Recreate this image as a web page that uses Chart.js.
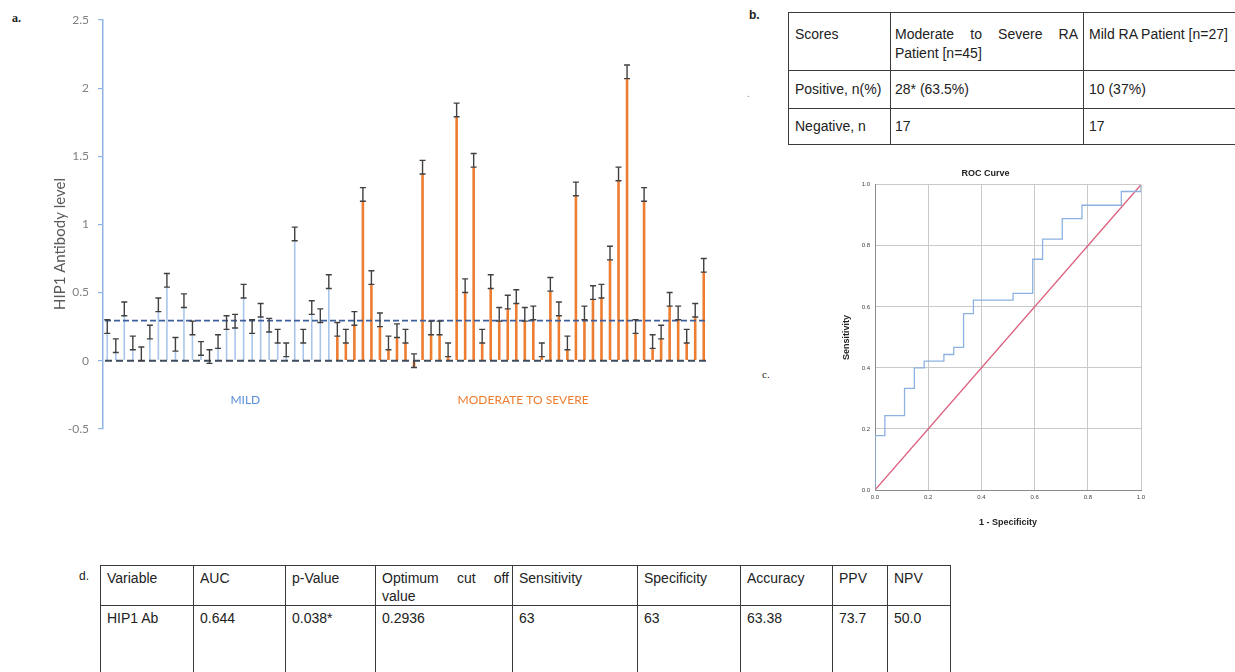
<!DOCTYPE html>
<html>
<head>
<meta charset="utf-8">
<script src="https://cdn.jsdelivr.net/npm/chart.js@4.4.0/dist/chart.umd.min.js"></script>
<style>
  body { margin: 0; background: #fff; width: 1235px; height: 672px; overflow: hidden; position: relative; font-family: "Liberation Sans", Arial, sans-serif; }
  .abs { position: absolute; }
  table { border-collapse: collapse; font-size: 14px; color: #222; table-layout: fixed; }
  td { border: 1.5px solid #3a3a3a; padding: 0 6px; line-height: 19px; vertical-align: middle; overflow: hidden; white-space: nowrap; }
  .just { text-align: justify; text-align-last: justify; }
  .lbl { position: absolute; color: #222; }
</style>
</head>
<body>

<div class="lbl" style="left:12px;top:11px;font:bold 12px 'Liberation Serif',serif;">a.</div>
<div class="lbl" style="left:749px;top:8px;font:bold 12px 'Liberation Sans',sans-serif;">b.</div>
<div class="lbl" style="left:762px;top:368px;font:11px 'Liberation Serif',serif;">c.</div>
<div class="lbl" style="left:79px;top:569px;font:12px 'Liberation Sans',sans-serif;">d.</div>
<div class="lbl" style="left:747px;top:88px;font:10px 'Liberation Sans',sans-serif;color:#888;">.</div>

<canvas id="barChart" class="abs" style="left:0;top:0;" width="720" height="445"></canvas>
<canvas id="rocChart" class="abs" style="left:830px;top:160px;" width="320" height="380"></canvas>

<table class="abs" style="left:788px;top:12px;width:460px;">
  <colgroup><col style="width:102px"><col style="width:193px"><col style="width:165px"></colgroup>
  <tr style="height:58px">
    <td style="vertical-align:top;padding-top:12px;">Scores</td>
    <td style="vertical-align:top;padding-top:12px;padding-left:4px;padding-right:5px;"><div class="just">Moderate to Severe RA</div><div>Patient [n=45]</div></td>
    <td style="vertical-align:top;padding-top:12px;padding-left:5px;">Mild RA Patient [n=27]</td>
  </tr>
  <tr style="height:38px">
    <td>Positive, n(%)</td><td style="padding-left:4px;">28* (63.5%)</td><td style="padding-left:5px;">10 (37%)</td>
  </tr>
  <tr style="height:36px">
    <td>Negative, n</td><td style="padding-left:4px;">17</td><td style="padding-left:5px;">17</td>
  </tr>
</table>

<table class="abs" style="left:100px;top:565px;width:850px;">
  <colgroup>
    <col style="width:93px"><col style="width:92px"><col style="width:90px"><col style="width:137px"><col style="width:125px">
    <col style="width:103px"><col style="width:92px"><col style="width:55px"><col style="width:63px">
  </colgroup>
  <tr style="height:39px">
    <td style="vertical-align:top;padding-top:3px;line-height:18px;">Variable</td>
    <td style="vertical-align:top;padding-top:3px;line-height:18px;">AUC</td>
    <td style="vertical-align:top;padding-top:3px;line-height:18px;">p-Value</td>
    <td style="vertical-align:top;padding-top:3px;line-height:18px;padding-right:3px;"><div class="just">Optimum cut off</div><div>value</div></td>
    <td style="vertical-align:top;padding-top:3px;line-height:18px;">Sensitivity</td>
    <td style="vertical-align:top;padding-top:3px;line-height:18px;">Specificity</td>
    <td style="vertical-align:top;padding-top:3px;line-height:18px;">Accuracy</td>
    <td style="vertical-align:top;padding-top:3px;line-height:18px;">PPV</td>
    <td style="vertical-align:top;padding-top:3px;line-height:18px;">NPV</td>
  </tr>
  <tr style="height:71px">
    <td style="vertical-align:top;padding-top:3px;">HIP1 Ab</td>
    <td style="vertical-align:top;padding-top:3px;">0.644</td>
    <td style="vertical-align:top;padding-top:3px;">0.038*</td>
    <td style="vertical-align:top;padding-top:3px;">0.2936</td>
    <td style="vertical-align:top;padding-top:3px;">63</td>
    <td style="vertical-align:top;padding-top:3px;">63</td>
    <td style="vertical-align:top;padding-top:3px;">63.38</td>
    <td style="vertical-align:top;padding-top:3px;">73.7</td>
    <td style="vertical-align:top;padding-top:3px;">50.0</td>
  </tr>
</table>

<script>
// HIP1 antibody level per patient (bar top)
const mildValues = [0.20, 0.06, 0.33, 0.08, 0.00, 0.16, 0.36, 0.54, 0.07, 0.39, 0.19, 0.04, -0.02, 0.09,
  0.23, 0.24, 0.46, 0.20, 0.32, 0.21, 0.13, 0.03, 0.88, 0.13, 0.34, 0.28, 0.53];
const severeValues = [0.18, 0.13, 0.26, 1.17, 0.56, 0.25, 0.08, 0.17, 0.13,
  -0.05, 1.37, 0.19, 0.19, 0.03, 1.79, 0.50, 1.42, 0.13, 0.53, 0.29, 0.38, 0.42, 0.29, 0.30, 0.03, 0.51, 0.33,
  0.08, 1.21, 0.30, 0.45, 0.46, 0.74, 1.32, 2.07, 0.20, 1.17, 0.09, 0.16, 0.40, 0.30, 0.13, 0.32, 0.65];
const ERR = 0.1;          // upper error bar length
const CUTOFF = 0.2936;    // optimum cut off
const yTicks = [-0.5, 0, 0.5, 1, 1.5, 2, 2.5];

// ROC curve (1 - specificity, sensitivity)
const rocFpr = [0, 0, 0.037, 0.111, 0.148, 0.185, 0.259, 0.296, 0.333, 0.370, 0.519, 0.593, 0.630, 0.704, 0.778, 0.926, 1.0];
const rocTpr = [0, 0.178, 0.244, 0.333, 0.400, 0.422, 0.444, 0.467, 0.578, 0.622, 0.644, 0.756, 0.822, 0.889, 0.933, 0.978, 1.0];
const refLine = [0, 1];
const rocTicks = [0, 0.2, 0.4, 0.6, 0.8, 1.0];

const MILD_COLOR = "#a9c6ea";
const SEVERE_COLOR = "#ed7d31";

/* =========================
   a. bar chart
========================= */
const labels = [...mildValues, ...severeValues].map((_, i) => String(i + 1));
const mildData = [...mildValues, ...severeValues.map(() => null)];
const severeData = [...mildValues.map(() => null), ...severeValues];

const barExtras = {
  id: "barExtras",
  afterDatasetsDraw(chart) {
    const { ctx, chartArea: a, scales: { x, y } } = chart;
    ctx.save();

    const dashed = (val, color, w, dash) => {
      const py = y.getPixelForValue(val);
      ctx.strokeStyle = color;
      ctx.lineWidth = w;
      ctx.setLineDash(dash);
      ctx.beginPath();
      ctx.moveTo(a.left + 2, py);
      ctx.lineTo(a.right, py);
      ctx.stroke();
    };
    dashed(0, "#3e4b5e", 2, [7, 4]);
    dashed(CUTOFF, "#3f5e9c", 1.6, [6, 3]);
    ctx.setLineDash([]);

    // error bars
    ctx.strokeStyle = "#404040";
    ctx.lineWidth = 1.4;
    chart.data.datasets.forEach((ds, di) => {
      const meta = chart.getDatasetMeta(di);
      ds.data.forEach((v, i) => {
        if (v === null) return;
        const px = meta.data[i].x;
        const y0 = y.getPixelForValue(v);
        const y1 = y.getPixelForValue(v + ERR);
        ctx.beginPath();
        ctx.moveTo(px, y0); ctx.lineTo(px, y1);
        ctx.moveTo(px - 3, y0); ctx.lineTo(px + 3, y0);
        ctx.moveTo(px - 3, y1); ctx.lineTo(px + 3, y1);
        ctx.stroke();
      });
    });

    // group labels
    ctx.font = "12px Lato";
    ctx.textAlign = "center";
    ctx.textBaseline = "middle";
    ctx.fillStyle = "#5b8fd6";
    ctx.fillText("MILD", x.getPixelForValue(16.2), y.getPixelForValue(-0.29));
    ctx.fillStyle = SEVERE_COLOR;
    ctx.fillText("MODERATE TO SEVERE", x.getPixelForValue(48.8), y.getPixelForValue(-0.29));

    // y title
    ctx.translate(60, 244);
    ctx.rotate(-Math.PI / 2);
    ctx.fillStyle = "#595959";
    ctx.font = "15px Lato";
    ctx.fillText("HIP1 Antibody level", 0, 0);
    ctx.restore();
  }
};

new Chart(document.getElementById("barChart"), {
  type: "bar",
  data: {
    labels,
    datasets: [
      { label: "Mild", data: mildData, backgroundColor: MILD_COLOR, barThickness: 1.6, inflateAmount: 0, grouped: false },
      { label: "Moderate to severe", data: severeData, backgroundColor: SEVERE_COLOR, barThickness: 2.6, inflateAmount: 0, grouped: false },
    ]
  },
  options: {
    responsive: false,
    animation: false,
    layout: { padding: { top: 20, right: 12, bottom: 13, left: 0 } },
    plugins: { legend: { display: false }, tooltip: { enabled: false } },
    scales: {
      x: { display: false },
      y: {
        min: yTicks[0], max: yTicks[yTicks.length - 1],
        afterBuildTicks: s => { s.ticks = yTicks.map(v => ({ value: v })); },
        afterFit: s => { s.width = 103; },
        ticks: { color: "#7f7f7f", padding: 9, font: { family: "Lato", size: 12 }, callback: v => String(v) },
        grid: { drawOnChartArea: false, tickLength: 5, color: "#8eb4e3", lineWidth: 1.2 },
        border: { color: "#8eb4e3", width: 1.5 }
      }
    }
  },
  plugins: [barExtras]
});

/* =========================
   c. ROC curve
========================= */
const boldSmall = { family: "Liberation Sans", size: 9, weight: "bold" };

new Chart(document.getElementById("rocChart"), {
  type: "scatter",
  data: {
    datasets: [
      {
        label: "ROC",
        data: rocFpr.map((v, i) => ({ x: v, y: rocTpr[i] })),
        showLine: true, stepped: true, borderColor: "#8cb2e1", borderWidth: 1.3,
        pointRadius: 0, fill: false
      },
      {
        label: "Reference",
        data: refLine.map(v => ({ x: v, y: v })),
        showLine: true, borderColor: "#dc5f7c", borderWidth: 1.3, pointRadius: 0, fill: false
      }
    ]
  },
  options: {
    responsive: false,
    animation: false,
    layout: { padding: { top: 2, right: 9, bottom: 0, left: 0 } },
    plugins: {
      legend: { display: false },
      tooltip: { enabled: false },
      title: { display: true, text: "ROC Curve", color: "#222", font: boldSmall, padding: { top: 6, bottom: 6 } }
    },
    scales: {
      x: {
        type: "linear", min: 0, max: 1,
        afterBuildTicks: s => { s.ticks = rocTicks.map(v => ({ value: v })); },
        afterFit: s => { s.height = 50; },
        ticks: { color: "#444", padding: 4, font: { size: 6 }, callback: v => v.toFixed(1) },
        grid: { color: "#c9c9c9", drawTicks: false },
        border: { color: "#8a8a8a" },
        title: { display: true, text: "1 - Specificity", color: "#222", font: boldSmall, padding: { top: 0, bottom: 11.6 } }
      },
      y: {
        min: 0, max: 1,
        afterBuildTicks: s => { s.ticks = rocTicks.map(v => ({ value: v })); },
        afterFit: s => { s.width = 45; },
        ticks: { color: "#444", padding: 5, font: { size: 6 }, callback: v => v.toFixed(1) },
        grid: { color: "#c9c9c9", drawTicks: false },
        border: { color: "#8a8a8a" },
        title: { display: true, text: "Sensitivity", color: "#222", font: boldSmall, padding: { top: 11.6, bottom: 0 } }
      }
    }
  }
});
</script>
</body>
</html>
